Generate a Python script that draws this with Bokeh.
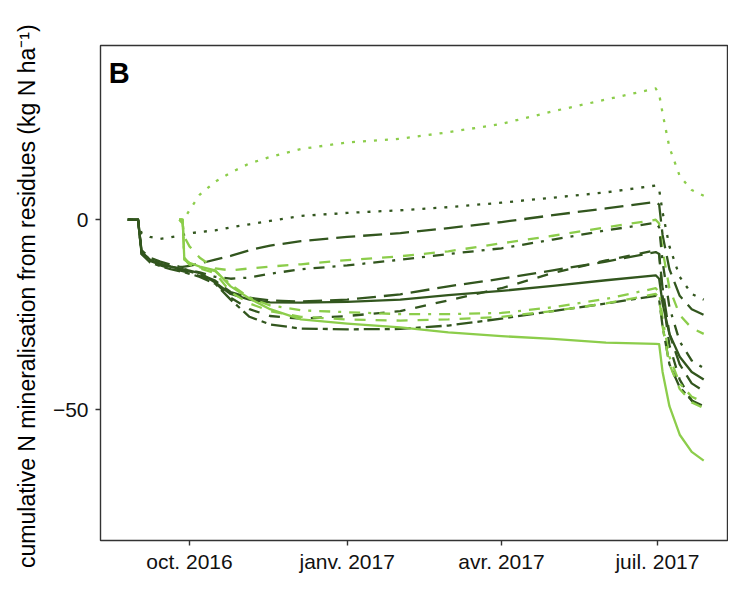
import pandas as pd
from bokeh.plotting import figure
from bokeh.models import ColumnDataSource, Range1d, FixedTicker, CustomJSTickFormatter, Label
from bokeh.embed import file_html
from bokeh.resources import INLINE

N = float("nan")

# ---------------- data ----------------
DATES = ["2016-08-26", "2016-09-01", "2016-09-03", "2016-09-08", "2016-09-14", "2016-09-20",
         "2016-09-25", "2016-09-27", "2016-09-28", "2016-10-01", "2016-10-07", "2016-10-16",
         "2016-10-25", "2016-11-05", "2016-11-17", "2016-12-05", "2017-01-01", "2017-02-01",
         "2017-03-01", "2017-04-01", "2017-05-01", "2017-06-01", "2017-06-30", "2017-07-02",
         "2017-07-04", "2017-07-08", "2017-07-14", "2017-07-21", "2017-07-28"]

light_dotted = [N, N, N, N, N, N, 0, 0, 0.3, 2.5, 6.6, 10, 12.4, 14.8, 16.5, 18.6, 20.3, 21.3,
                23, 25.2, 28.5, 31.6, 34.5, 33, 28, 19, 11.5, 7.8, 6.3]
dark_dotted = [0, 0, -3.5, -4.5, -5, -4.6, -4.2, -4, -3.9, -3.6, -3.2, -2.8, -2, -1.2, -0.3, 1,
               1.8, 2.5, 3.3, 4.5, 5.8, 7.2, 9, 8, 2, -7, -15, -19.5, -21]
dark_longdash_a = [0, 0, -8, -10, -11, -11.8, -12.3, -12.4, -12.3, -12.1, -11.5, -10.5, -9.5, -8,
                   -6.8, -5.6, -4.5, -3.5, -2.2, -0.6, 1.2, 3, 4.7, 4, -4, -13, -20, -23.5, -25]
light_dashed_a = [N, N, N, N, N, N, 0, -1, -4.5, -7, -10, -12.8, -13.3, -12.8, -12.3, -11.7,
                  -10.6, -9.6, -8.3, -6.2, -4.2, -2, 0, -1, -8, -18, -25, -28.5, -30]
dark_dotdash = [0, 0, -8.5, -10.5, -11.5, -12.3, -12.8, -13, -13, -13.3, -13.8, -15, -15.5,
                -15.2, -14.2, -13, -12, -10.5, -9, -7.5, -5.2, -2.8, -0.8, -2, -11, -23, -32,
                -37, -39]
dark_longdash_b = [0, 0, -8.5, -10.8, -11.8, -12.5, -13, -13.2, -13.3, -13.6, -14.3, -16, -19,
                   -20.5, -21.2, -21.5, -21, -19.6, -17.5, -15.5, -13.3, -11, -8.5, -9, -18, -30,
                   -38, -43, -45]
dark_dashed = [0, 0, -9, -11, -12, -12.8, -13.3, -13.5, -13.6, -14, -14.8, -16.5, -20.5, -23.5,
               -25.3, -26, -25.3, -24, -21.2, -18, -14, -10.7, -8, -9, -20, -33, -42, -47.5, -50]
dark_solid = [0, 0, -8.5, -10.5, -11.5, -12.3, -12.8, -13, -13.1, -13.4, -14, -16.5, -19.5, -21,
              -21.7, -21.8, -21.6, -21, -19.8, -18.7, -17.4, -15.9, -14.6, -15.5, -22, -30, -36,
              -40, -42]
light_dotdash = [N, N, N, N, N, N, 0, 0, -10, -11.5, -12.5, -13.5, -17, -20.5, -22.5, -23.8,
                 -24.3, -24.8, -24.8, -24.5, -23, -20.8, -18, -19, -26, -36, -43, -46.5, -48]
dark_twodash = [0, 0, -9, -11.2, -12.2, -13, -13.5, -13.7, -13.8, -14.2, -15, -16.8, -21, -25.5,
                -27.5, -28.6, -28.8, -28.7, -27.8, -26, -24, -22, -20, -21, -28, -38, -44,
                -47.5, -49]
light_dashed_b = [N, N, N, N, N, N, 0, 0, -10.3, -11.8, -12.8, -14, -19, -22, -24, -25.5, -26.2,
                  -26.5, -26.2, -25.5, -24, -22, -19.5, -20.5, -28, -38, -44.5, -48, -49.5]
light_solid = [N, N, N, N, N, N, 0, 0, -10.5, -11.3, -12.3, -13.3, -17.5, -20.7, -23.5, -26.2,
               -27.3, -28.3, -29.6, -30.6, -31.3, -32.3, -32.6, -32.7, -40, -49, -56.5, -61,
               -63.3]

X_TICKS = ["2016-10-01", "2017-01-01", "2017-04-01", "2017-07-01"]
MONTHS_FR = ["janv.", "févr.", "mars", "avr.", "mai", "juin", "juil.", "août", "sept.",
             "oct.", "nov.", "déc."]
Y_TICKS = [-50, 0]
Y_LABEL = "cumulative N mineralisation from residues (kg N  ha\u207b\u00b9)"
PANEL_TAG = "B"

# ---------------- styling ----------------
DARK = "#32561e"
LIGHT = "#8ccd4b"
DASH = {"solid": "solid", "dotted": "3 8", "dashed": "11 10", "longdash": "19 8",
        "dotdash": "3 8 11 8", "twodash": "5 5 16 5"}

series = [
    (light_dotted, LIGHT, "dotted"),
    (dark_dotted, DARK, "dotted"),
    (dark_longdash_a, DARK, "longdash"),
    (light_dashed_a, LIGHT, "dashed"),
    (dark_dotdash, DARK, "dotdash"),
    (dark_longdash_b, DARK, "longdash"),
    (dark_dashed, DARK, "dashed"),
    (dark_solid, DARK, "solid"),
    (light_dotdash, LIGHT, "dotdash"),
    (dark_twodash, DARK, "twodash"),
    (light_dashed_b, LIGHT, "dashed"),
    (light_solid, LIGHT, "solid"),
]

dates = pd.to_datetime(DATES)

x_start = pd.Timestamp("2016-08-10 02:00")
x_end = pd.Timestamp("2017-08-10 21:00")

p = figure(width=728, height=575, x_axis_type="datetime", output_backend="svg",
           toolbar_location=None,
           x_range=Range1d(start=x_start, end=x_end),
           y_range=Range1d(start=-84.3, end=45.8),
           min_border_left=100, min_border_right=1, min_border_top=45, min_border_bottom=33)

for vals, color, style in series:
    src = ColumnDataSource(data=dict(x=dates, y=vals))
    p.line(x="x", y="y", source=src, line_color=color, line_width=2.3,
           line_dash=DASH[style], line_join="round")

p.xgrid.visible = False
p.ygrid.visible = False
p.background_fill_color = "white"
p.border_fill_color = "white"
p.outline_line_color = "#333333"
p.outline_line_width = 1.4
p.outline_line_alpha = 1.0

tick_ms = [pd.Timestamp(t).value / 1e6 for t in X_TICKS]
p.xaxis.ticker = FixedTicker(ticks=tick_ms)
p.xaxis.formatter = CustomJSTickFormatter(
    args=dict(names=MONTHS_FR),
    code="const d = new Date(tick); return names[d.getUTCMonth()] + ' ' + d.getUTCFullYear();")
p.yaxis.ticker = FixedTicker(ticks=Y_TICKS)

for ax in (p.xaxis[0], p.yaxis[0]):
    ax.axis_line_color = None
    ax.major_tick_line_color = "#333333"
    ax.major_tick_line_width = 1.4
    ax.major_tick_out = 5
    ax.major_tick_in = 0
    ax.minor_tick_line_color = None
    ax.major_label_text_font = "Liberation Sans"
    ax.major_label_text_font_size = "21px"
    ax.major_label_text_color = "#111111"

p.xaxis.major_label_standoff = 4
p.yaxis.major_label_standoff = 7
p.yaxis.axis_label = Y_LABEL
p.yaxis.axis_label_text_font = "Liberation Sans"
p.yaxis.axis_label_text_font_size = "23px"
p.yaxis.axis_label_text_font_style = "normal"
p.yaxis.axis_label_text_color = "#000000"
p.yaxis.axis_label_standoff = 10

tag = Label(x=pd.Timestamp("2016-08-14 20:00").value / 1e6, y=38.7, text=PANEL_TAG,
            text_font="Liberation Sans", text_font_style="bold", text_font_size="29px",
            text_baseline="alphabetic", text_align="left", text_color="#000000")
p.add_layout(tag)

with open("out.html", "w", encoding="utf-8") as f:
    f.write(file_html(p, INLINE))
